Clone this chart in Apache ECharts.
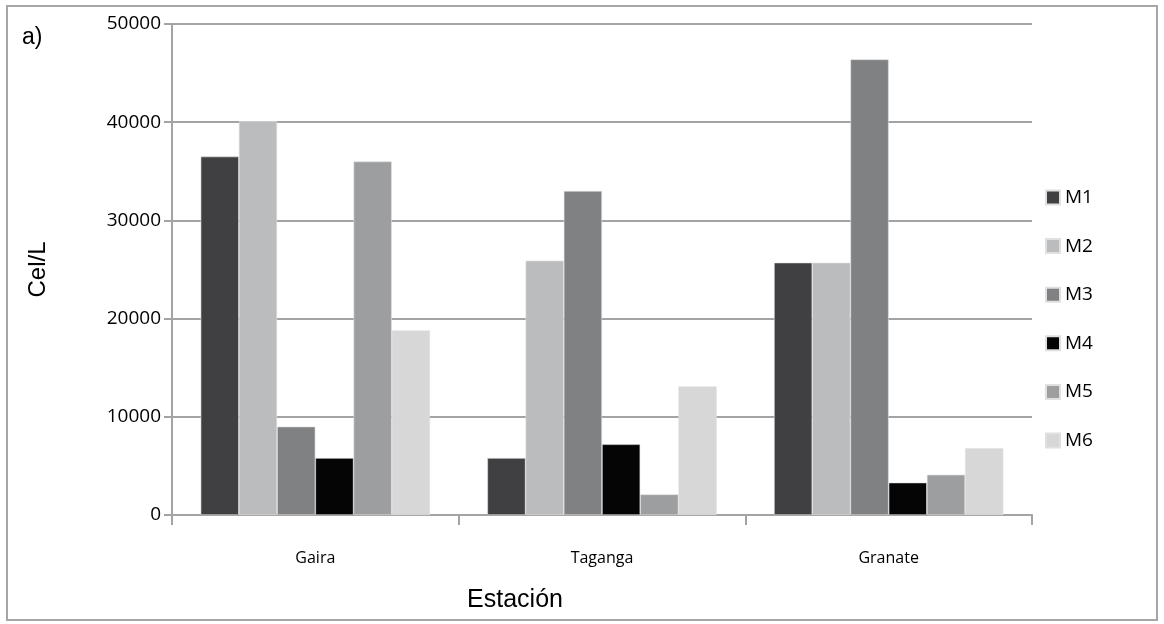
<!DOCTYPE html>
<html>
<head>
<meta charset="utf-8">
<script src="https://cdn.jsdelivr.net/npm/echarts@6/dist/echarts.min.js"></script>
<style>
html,body{margin:0;padding:0;background:#fff;}
#chart{width:1164px;height:624px;}
</style>
</head>
<body>
<div id="chart"></div>
<script>
var categories = ['Gaira', 'Taganga', 'Granate'];
var seriesNames = ['M1', 'M2', 'M3', 'M4', 'M5', 'M6'];
var M1 = [36500, 5800, 25700];
var M2 = [40100, 25900, 25700];
var M3 = [9000, 33000, 46400];
var M4 = [5800, 7200, 3300];
var M5 = [36000, 2100, 4100];
var M6 = [18800, 13100, 6800];
var seriesValues = [M1, M2, M3, M4, M5, M6];
var colors = ['#404042', '#bbbcbe', '#808183', '#050505', '#9d9ea0', '#d7d7d7'];

var chart = echarts.init(document.getElementById('chart'));
var series = seriesNames.map(function (n, i) {
  return {
    name: n,
    type: 'bar',
    data: seriesValues[i],
    barGap: '0%',
    barCategoryGap: '20%',
    itemStyle: { color: colors[i], borderColor: '#e0e0e0', borderWidth: 0.6 }
  };
});
chart.setOption({
  animation: false,
  color: colors,
  grid: { left: 172, right: 132, top: 24, bottom: 109, containLabel: false },
  legend: {
    orient: 'vertical',
    left: 1040,
    top: 183,
    itemWidth: 14,
    itemHeight: 14,
    itemGap: 29.6,
    icon: 'rect',
    textStyle: { fontFamily: 'Open Sans', fontSize: 19, color: '#000' },
    data: seriesNames
  },
  xAxis: {
    type: 'category',
    data: categories,
    axisLine: { lineStyle: { color: '#a3a3a3', width: 2 } },
    axisTick: { show: true, length: 10, lineStyle: { color: '#a3a3a3', width: 2 } },
    axisLabel: { fontFamily: 'Open Sans', fontSize: 16, color: '#000', margin: 35 }
  },
  yAxis: {
    type: 'value',
    min: 0,
    max: 50000,
    interval: 10000,
    name: 'Cel/L',
    nameLocation: 'middle',
    nameGap: 122,
    nameTextStyle: { fontFamily: 'Liberation Sans', fontSize: 24, color: '#000' },
    axisLine: { show: true, lineStyle: { color: '#a3a3a3', width: 2 } },
    axisTick: { show: true, length: 8, lineStyle: { color: '#a3a3a3', width: 2 } },
    axisLabel: { fontFamily: 'Open Sans', fontSize: 19, color: '#000', margin: 11, formatter: function (v) { return String(v); } },
    splitLine: { lineStyle: { color: '#a3a3a3', width: 2 } }
  },
  graphic: [
    { type: 'rect', shape: { x: 7, y: 6, width: 1150, height: 614 }, style: { fill: 'none', stroke: '#a6a6a6', lineWidth: 2 }, z: -1 },
    { type: 'text', left: 22, top: 26, style: { text: 'a)', font: '23px "Liberation Sans"', fill: '#000' } },
    { type: 'text', x: 515, y: 600, style: { text: 'Estación', font: '25px "Liberation Sans"', fill: '#000', textAlign: 'center', textVerticalAlign: 'middle' } }
  ],
  series: series
});
</script>
</body>
</html>
